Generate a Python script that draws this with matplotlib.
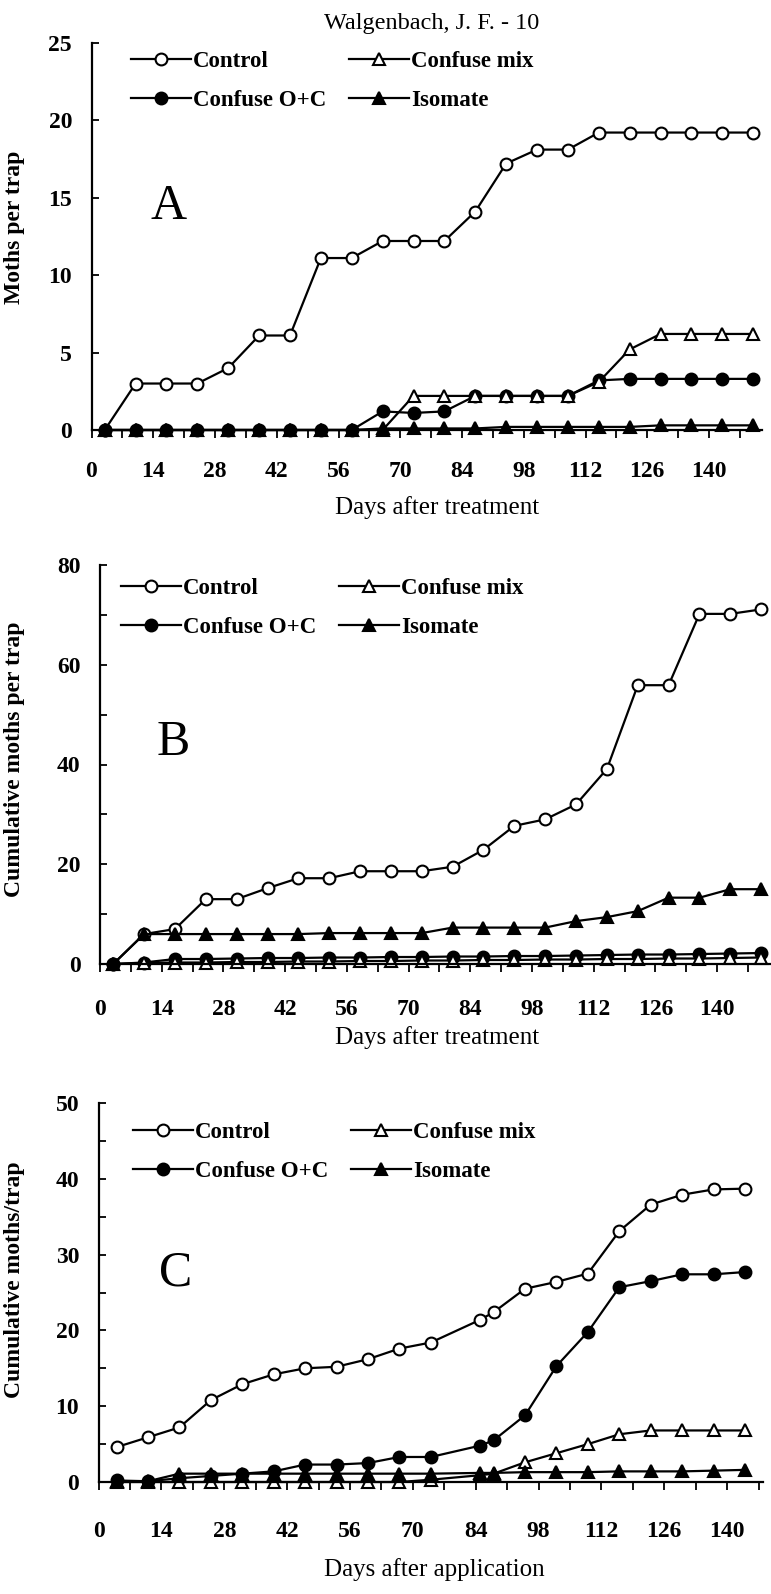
import matplotlib
matplotlib.use('Agg')
import matplotlib.pyplot as plt

plt.rcParams['font.family'] = ['Liberation Serif', 'DejaVu Serif']

# trap dates (days after treatment), panels A and B
days_ab = [3, 10, 17, 24, 31, 38, 45, 52, 59, 66, 73, 80, 87, 94, 101, 108, 115, 122, 129, 136, 143, 150]
# panel C (days after application)
days_c = [4, 11, 18, 25, 32, 39, 46, 53, 60, 67, 74, 85, 88, 95, 102, 109, 116, 123, 130, 137, 144]

# A: moths per trap
control_a = [0, 3.0, 3.0, 3.0, 4.0, 6.1, 6.1, 11.1, 11.1, 12.2, 12.2, 12.2, 14.1, 17.2, 18.1, 18.1, 19.2, 19.2, 19.2, 19.2, 19.2, 19.2]
oc_a = [0, 0, 0, 0, 0, 0, 0, 0, 0, 1.2, 1.1, 1.2, 2.2, 2.2, 2.2, 2.2, 3.2, 3.3, 3.3, 3.3, 3.3, 3.3]
mix_a = [0, 0, 0, 0, 0, 0, 0, 0, 0, 0, 2.2, 2.2, 2.2, 2.2, 2.2, 2.2, 3.1, 5.2, 6.2, 6.2, 6.2, 6.2]
iso_a = [0, 0, 0, 0, 0, 0, 0, 0, 0, 0.1, 0.1, 0.1, 0.1, 0.2, 0.2, 0.2, 0.2, 0.2, 0.3, 0.3, 0.3, 0.3]

# B: cumulative moths per trap
control_b = [0, 6.0, 7.0, 13.0, 13.0, 15.2, 17.2, 17.2, 18.6, 18.6, 18.6, 19.5, 22.9, 27.7, 29.0, 32.0, 39.1, 55.9, 55.9, 70.2, 70.2, 71.1]
oc_b = [0, 0.3, 1.0, 1.0, 1.1, 1.2, 1.2, 1.3, 1.3, 1.4, 1.4, 1.5, 1.5, 1.6, 1.6, 1.7, 1.8, 1.9, 1.9, 2.0, 2.1, 2.2]
mix_b = [0, 0.2, 0.3, 0.3, 0.4, 0.4, 0.5, 0.5, 0.6, 0.6, 0.7, 0.7, 0.8, 0.8, 0.9, 0.9, 1.0, 1.0, 1.1, 1.1, 1.2, 1.3]
iso_b = [0, 6.0, 6.0, 6.0, 6.0, 6.0, 6.0, 6.2, 6.2, 6.2, 6.2, 7.3, 7.3, 7.3, 7.3, 8.6, 9.4, 10.6, 13.3, 13.3, 15.0, 15.0]

# C: cumulative moths/trap
control_c = [4.6, 5.9, 7.2, 10.8, 12.9, 14.2, 15.0, 15.2, 16.2, 17.6, 18.4, 21.4, 22.4, 25.5, 26.4, 27.5, 33.1, 36.6, 37.9, 38.6, 38.7]
oc_c = [0.2, 0.1, 0.5, 0.8, 1.1, 1.4, 2.3, 2.3, 2.5, 3.3, 3.3, 4.8, 5.5, 8.8, 15.3, 19.8, 25.7, 26.5, 27.4, 27.4, 27.7]
mix_c = [0, 0, 0, 0, 0, 0, 0, 0, 0, 0, 0.3, 0.9, 1.1, 2.6, 3.8, 5.0, 6.3, 6.8, 6.8, 6.8, 6.8]
iso_c = [0.1, 0.1, 1.1, 1.1, 1.1, 1.1, 1.1, 1.1, 1.1, 1.1, 1.1, 1.2, 1.2, 1.3, 1.3, 1.3, 1.4, 1.4, 1.4, 1.5, 1.6]

xticks = [0, 14, 28, 42, 56, 70, 84, 98, 112, 126, 140]

W, H = 771, 1594
fig = plt.figure(figsize=(W / 100, H / 100), dpi=100, facecolor='white')


def rect(left, right, top, bottom):
    return [left / W, 1 - bottom / H, (right - left) / W, (bottom - top) / H]


def panel(ax, days, series, ylim, ymajor, yminor, xlim, ylabel, ylab_xy, xlabel, xlab_xy,
          letter, letter_xy, leg_xy, xpad):
    styles = [
        ('Control', dict(marker='o', markerfacecolor='white', markersize=8.5)),
        ('Confuse O+C', dict(marker='o', markerfacecolor='black', markersize=8.5)),
        ('Confuse mix', dict(marker='^', markerfacecolor='white', markersize=9)),
        ('Isomate', dict(marker='^', markerfacecolor='black', markersize=9)),
    ]
    handles = []
    for (name, st), ys in zip(styles, series):
        h, = ax.plot(days, ys, color='black', lw=1.6, markeredgecolor='black',
                     markeredgewidth=1.5, clip_on=False, label=name, **st)
        handles.append(h)

    ax.set_xlim(*xlim)
    ax.set_ylim(*ylim)
    for s in ['top', 'right']:
        ax.spines[s].set_visible(False)
    for s in ['left', 'bottom']:
        ax.spines[s].set_linewidth(1.6)

    ax.set_xticks(xticks)
    ax.set_xticks(range(7, int(xlim[1]), 7), minor=True)
    ax.set_yticks(ymajor)
    ax.set_yticks(yminor, minor=True)
    ax.tick_params(axis='x', which='both', direction='out', length=6, width=1.3,
                   labelsize=17, pad=xpad)
    ax.tick_params(axis='y', which='both', direction='in', length=5, width=1.3,
                   labelsize=17, pad=14)
    for t in ax.get_xticklabels() + ax.get_yticklabels():
        t.set_fontweight('bold')

    ax.set_ylabel(ylabel, fontsize=17, fontweight='bold')
    ax.yaxis.set_label_coords(*ylab_xy)
    ax.set_xlabel(xlabel, fontsize=18, va='center')
    ax.xaxis.set_label_coords(*xlab_xy)

    fig.text(letter_xy[0] / W, 1 - letter_xy[1] / H, letter, fontsize=36,
             ha='center', va='center')

    ax.legend([handles[0], handles[1], handles[2], handles[3]],
              ['Control', 'Confuse O+C', 'Confuse mix', 'Isomate'],
              ncol=2, loc='upper left', frameon=False,
              bbox_to_anchor=(leg_xy[0] / W, 1 - leg_xy[1] / H),
              bbox_transform=fig.transFigure, borderpad=0, borderaxespad=0,
              handlelength=2.6, handletextpad=0.1, columnspacing=1.0,
              labelspacing=0.8, prop={'size': 16.5, 'weight': 'bold'})


axA = fig.add_axes(rect(91.5, 762, 42.7, 430))
panel(axA, days_ab, [control_a, oc_a, mix_a, iso_a], (0, 25), [0, 5, 10, 15, 20, 25], [],
      (0, 152), 'Moths per trap', (-0.099, 0.523), 'Days after treatment', (0.515, -0.201),
      'A', (169, 207), (131, 51), 16)

axB = fig.add_axes(rect(100, 770, 565, 964))
panel(axB, days_ab, [control_b, oc_b, mix_b, iso_b], (0, 80), [0, 20, 40, 60, 80],
      [10, 30, 50, 70], (0, 152), 'Cumulative moths per trap', (-0.112, 0.514),
      'Days after treatment', (0.503, -0.183), 'B', (173, 743), (121, 578), 19)

axC = fig.add_axes(rect(98.6, 763, 1103, 1482))
panel(axC, days_c, [control_c, oc_c, mix_c, iso_c], (0, 50), [0, 10, 20, 30, 40, 50],
      [5, 15, 25, 35, 45], (0, 148), 'Cumulative moths/trap', (-0.111, 0.533),
      'Days after application', (0.505, -0.232), 'C', (176, 1273), (133, 1122), 22)

fig.text(432 / W, 1 - 24 / H, 'Walgenbach, J. F. - 10', fontsize=17.5, ha='center', va='center')

plt.savefig('out.png', dpi=100, facecolor='white')
